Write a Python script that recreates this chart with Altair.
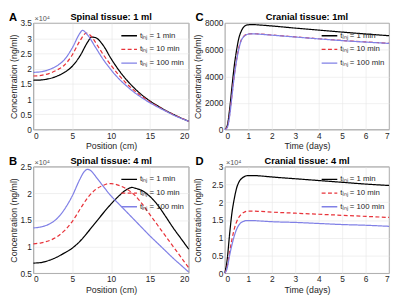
import altair as alt
import pandas as pd

FONT = "Liberation Sans"
SERIES = ["tᵢₙⱼ = 1 min", "tᵢₙⱼ = 10 min", "tᵢₙⱼ = 100 min"]
COLORS = ["#000000", "#e8333a", "#8080e6"]
DASHES = [[1, 0], [4, 2.5], [1, 0]]

# Panel A: Spinal tissue 1 ml (concentration x 10^4 ng/ml vs position cm)
A_x1 = [0, 1, 2, 3, 4, 5, 6, 7, 7.5, 8, 9, 10, 11, 12, 13, 14, 15, 16, 17, 18, 19, 20]
A_y1 = [1.62, 1.63, 1.67, 1.75, 1.88, 2.08, 2.42, 2.88, 3.04, 3.02, 2.76, 2.33, 1.95, 1.63, 1.36, 1.13, 0.94, 0.78, 0.63, 0.5, 0.38, 0.27]
A_x2 = [0, 1, 2, 3, 4, 5, 6, 6.8, 7.5, 8, 9, 10, 11, 12, 13, 14, 15, 16, 17, 18, 19, 20]
A_y2 = [1.76, 1.78, 1.84, 1.95, 2.12, 2.45, 2.92, 3.17, 3.05, 2.86, 2.46, 2.11, 1.79, 1.51, 1.28, 1.08, 0.91, 0.76, 0.62, 0.49, 0.38, 0.27]
A_x3 = [0, 1, 2, 3, 4, 5, 6, 6.3, 7, 8, 9, 10, 11, 12, 13, 14, 15, 16, 17, 18, 19, 20]
A_y3 = [1.88, 1.9, 1.97, 2.09, 2.3, 2.68, 3.17, 3.26, 3.1, 2.7, 2.3, 1.96, 1.67, 1.43, 1.22, 1.04, 0.88, 0.74, 0.61, 0.48, 0.37, 0.27]

# Panel B: Spinal tissue 4 ml
B_x1 = [0, 1, 2, 3, 4, 5, 6, 7, 8, 9, 10, 11, 12, 12.7, 13, 14, 15, 16, 17, 18, 19, 20]
B_y1 = [0.69, 0.7, 0.74, 0.8, 0.88, 0.97, 1.1, 1.27, 1.45, 1.63, 1.8, 1.95, 2.07, 2.11, 2.1, 2.05, 1.94, 1.78, 1.57, 1.35, 1.15, 0.95]
B_x2 = [0, 1, 2, 3, 4, 5, 6, 7, 8, 9, 9.7, 10, 11, 12, 13, 14, 15, 16, 17, 18, 19, 20]
B_y2 = [1.05, 1.07, 1.11, 1.18, 1.3, 1.47, 1.7, 1.92, 2.07, 2.15, 2.18, 2.18, 2.15, 2.08, 1.97, 1.8, 1.6, 1.4, 1.2, 1.0, 0.8, 0.6]
B_x3 = [0, 1, 2, 3, 4, 5, 6, 6.5, 7, 7.5, 8, 9, 10, 11, 12, 13, 14, 15, 16, 17, 18, 19, 20]
B_y3 = [1.35, 1.37, 1.42, 1.52, 1.7, 1.95, 2.27, 2.4, 2.45, 2.41, 2.32, 2.13, 1.95, 1.8, 1.65, 1.5, 1.35, 1.2, 1.06, 0.92, 0.78, 0.65, 0.52]

# Panels C, D: time in days
T = [0, 0.1, 0.2, 0.3, 0.4, 0.5, 0.6, 0.7, 0.8, 0.9, 1.0, 1.2, 1.5, 2, 3, 4, 5, 6, 7]
C_y1 = [0, 300, 1500, 3200, 4800, 6000, 6900, 7400, 7700, 7830, 7870, 7880, 7850, 7780, 7620, 7470, 7320, 7180, 7050]
C_y2 = [0, 200, 1100, 2600, 4100, 5300, 6200, 6750, 7000, 7130, 7180, 7200, 7170, 7100, 6960, 6820, 6690, 6580, 6480]
C_y3 = [0, 150, 1000, 2500, 4000, 5200, 6100, 6700, 6970, 7110, 7170, 7190, 7160, 7090, 6950, 6810, 6680, 6570, 6470]
D_y1 = [0, 0.4, 1.1, 1.7, 2.1, 2.4, 2.57, 2.66, 2.71, 2.74, 2.75, 2.75, 2.74, 2.71, 2.66, 2.61, 2.56, 2.51, 2.47]
D_y2 = [0, 0.2, 0.6, 0.95, 1.25, 1.45, 1.58, 1.66, 1.71, 1.74, 1.75, 1.75, 1.74, 1.72, 1.69, 1.66, 1.63, 1.6, 1.57]
D_y3 = [0, 0.15, 0.5, 0.8, 1.05, 1.24, 1.36, 1.43, 1.46, 1.48, 1.48, 1.48, 1.47, 1.45, 1.43, 1.40, 1.37, 1.35, 1.32]


def frame(xs_list, ys_list):
    rows = []
    for s, xs, ys in zip(SERIES, xs_list, ys_list):
        for x, y in zip(xs, ys):
            rows.append({"x": x, "y": y, "series": s})
    return pd.DataFrame(rows)


def panel(df, letter, title, xtitle, xvals, xdom, yvals, ydom, yfmt, w, h, ext, letter_x, sci):
    leg = alt.Legend(title=None, orient="top-right", offset=4, symbolType="stroke",
                     symbolSize=256, symbolStrokeWidth=1.3, labelFont=FONT,
                     labelFontSize=8, labelColor="#262626", rowPadding=1,
                     labelOffset=2, padding=0)
    base = alt.Chart(df).mark_line(interpolate="monotone", strokeWidth=1.25).encode(
        x=alt.X("x:Q", scale=alt.Scale(domain=xdom, nice=False, zero=False),
                axis=alt.Axis(values=xvals, title=xtitle, format="~g")),
        y=alt.Y("y:Q", scale=alt.Scale(domain=ydom, nice=False, zero=False),
                axis=alt.Axis(values=yvals, title="Concentration (ng/ml)", format=yfmt,
                              minExtent=ext, maxExtent=ext)),
        color=alt.Color("series:N", scale=alt.Scale(domain=SERIES, range=COLORS), legend=leg),
        strokeDash=alt.StrokeDash("series:N", scale=alt.Scale(domain=SERIES, range=DASHES), legend=leg),
    )
    layers = [base]
    lt = alt.Chart(pd.DataFrame({"t": [letter]})).mark_text(
        font=FONT, fontSize=11.5, fontWeight="bold", align="left", baseline="alphabetic", color="#000000"
    ).encode(text="t:N", x=alt.value(letter_x), y=alt.value(-2))
    layers.append(lt)
    tt = alt.Chart(pd.DataFrame({"t": [title]})).mark_text(
        font=FONT, fontSize=9.5, fontWeight="bold", align="center", baseline="alphabetic", color="#000000"
    ).encode(text="t:N", x=alt.value(w / 2), y=alt.value(-3))
    layers.append(tt)
    if sci:
        st = alt.Chart(pd.DataFrame({"t": ["×10⁴"]})).mark_text(
            font=FONT, fontSize=7.5, align="left", baseline="alphabetic", color="#555555"
        ).encode(text="t:N", x=alt.value(1), y=alt.value(-2))
        layers.append(st)
    return alt.layer(*layers).properties(width=w, height=h)


W1, W2, H = 159, 168, 109
pA = panel(frame([A_x1, A_x2, A_x3], [A_y1, A_y2, A_y3]), "A", "Spinal tissue: 1 ml", "Position (cm)",
           [0, 5, 10, 15, 20], [0, 20], [0, 0.5, 1, 1.5, 2, 2.5, 3, 3.5], [0, 3.5], "~g", W1, H, 13, -25, True)
pB = panel(frame([B_x1, B_x2, B_x3], [B_y1, B_y2, B_y3]), "B", "Spinal tissue: 4 ml", "Position (cm)",
           [0, 5, 10, 15, 20], [0, 20], [0.5, 1, 1.5, 2, 2.5], [0.5, 2.5], "~g", W1, H, 13, -25, True)
pC = panel(frame([T, T, T], [C_y1, C_y2, C_y3]), "C", "Cranial tissue: 1ml", "Time (days)",
           list(range(8)), [0, 7], [0, 2000, 4000, 6000, 8000], [0, 8000], "d", W2, H, 21, -30, False)
pD = panel(frame([T, T, T], [D_y1, D_y2, D_y3]), "D", "Cranial tissue: 4 ml", "Time (days)",
           list(range(8)), [0, 7], [0, 0.5, 1, 1.5, 2, 2.5, 3], [0, 3], "~g", W2, H, 21, -30, True)

res = dict(color="independent", strokeDash="independent", x="independent", y="independent")
row1 = alt.hconcat(pA, pC, spacing=1).resolve_scale(**res).resolve_legend(color="independent", strokeDash="independent")
row2 = alt.hconcat(pB, pD, spacing=1).resolve_scale(**res).resolve_legend(color="independent", strokeDash="independent")
chart = alt.vconcat(row1, row2, spacing=4).resolve_scale(**res).resolve_legend(
    color="independent", strokeDash="independent"
).properties(padding=0).configure_view(
    stroke="#555555", strokeWidth=0.8
).configure_axis(
    grid=True, gridColor="#e6e6e6", gridWidth=0.6, domain=False, ticks=False,
    labelFont=FONT, labelFontSize=8.5, labelColor="#262626", labelPadding=2,
    titleFont=FONT, titleFontSize=9, titleFontWeight="normal", titleColor="#262626", titlePadding=2,
)

chart.save("out.html", embed_options={"renderer": "svg", "actions": False})
